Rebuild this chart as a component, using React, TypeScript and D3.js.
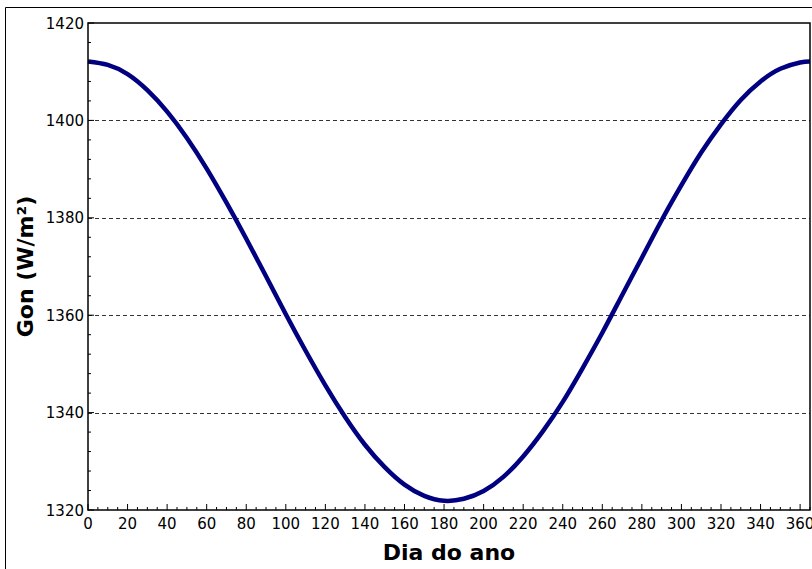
import React from "react";
import * as d3 from "d3";

const days = [0, 10, 20, 30, 40, 50, 60, 70, 80, 90, 100, 110, 120, 130, 140, 150, 160, 170, 180, 190, 200, 210, 220, 230, 240, 250, 260, 270, 280, 290, 300, 310, 320, 330, 340, 350, 360, 365];
const gon = [1412.1, 1411.4, 1409.5, 1406.2, 1401.8, 1396.4, 1390.1, 1383.1, 1375.7, 1368.0, 1360.2, 1352.7, 1345.6, 1339.1, 1333.4, 1328.8, 1325.2, 1322.9, 1321.9, 1322.3, 1323.9, 1326.8, 1331.0, 1336.2, 1342.2, 1349.1, 1356.4, 1364.1, 1371.8, 1379.5, 1386.7, 1393.4, 1399.2, 1404.2, 1408.0, 1410.6, 1411.9, 1412.1];
const xTicks = [0, 20, 40, 60, 80, 100, 120, 140, 160, 180, 200, 220, 240, 260, 280, 300, 320, 340, 360];
const yTicks = [1320, 1340, 1360, 1380, 1400, 1420];
const gridY = [1340, 1360, 1380, 1400];

export default function App() {
  const W = 812, H = 569;
  const L = 88, R = 810, T = 23, B = 510;
  const x = d3.scaleLinear().domain([0, 365]).range([L, R]);
  const y = d3.scaleLinear().domain([1320, 1420]).range([B, T]);
  const line = d3.line<number>().x((_, i) => x(days[i])).y((d) => y(d)).curve(d3.curveNatural);
  const xMinor = d3.range(0, 366, 5);
  const yMinor = d3.range(1320, 1421, 4);
  const font = "DejaVu Sans, sans-serif";
  return (
    <svg width={W} height={H} style={{ position: "absolute", left: 0, top: 0 }}>
      <rect x={0} y={0} width={W} height={H} fill="white" />
      <path d={`M5.5,${H} V7.5 H${W}`} fill="none" stroke="black" strokeWidth={1} />
      {gridY.map((v) => (
        <line key={v} x1={L} x2={R} y1={Math.round(y(v)) + 0.5} y2={Math.round(y(v)) + 0.5} stroke="#333" strokeWidth={1} strokeDasharray="4,3" />
      ))}
      <path d={line(gon) || ""} fill="none" stroke="#000080" strokeWidth={4.5} />
      {xMinor.map((v) => (
        <line key={"xm" + v} x1={x(v)} x2={x(v)} y1={B} y2={B - (v % 20 === 0 ? 6 : 3)} stroke="black" strokeWidth={1} />
      ))}
      {yMinor.map((v) => (
        <line key={"ym" + v} x1={L} x2={L + (v % 20 === 0 ? 6 : 3)} y1={y(v)} y2={y(v)} stroke="black" strokeWidth={1} />
      ))}
      <rect x={L} y={T} width={R - L} height={B - T} fill="none" stroke="black" strokeWidth={1.5} />
      {xTicks.map((v) => (
        <text key={"xt" + v} x={x(v)} y={B + 19} textAnchor="middle" fontFamily={font} fontSize={15} fill="black">{v}</text>
      ))}
      {yTicks.map((v) => (
        <text key={"yt" + v} x={L - 4} y={y(v) + 5.5} textAnchor="end" fontFamily={font} fontSize={15} fill="black">{v}</text>
      ))}
      <text x={(L + R) / 2} y={560} textAnchor="middle" fontFamily={font} fontSize={22} fontWeight="bold" fill="black">Dia do ano</text>
      <text transform={`translate(33,${(T + B) / 2}) rotate(-90)`} textAnchor="middle" fontFamily={font} fontSize={22} fontWeight="bold" fill="black">Gon (W/m²)</text>
    </svg>
  );
}
